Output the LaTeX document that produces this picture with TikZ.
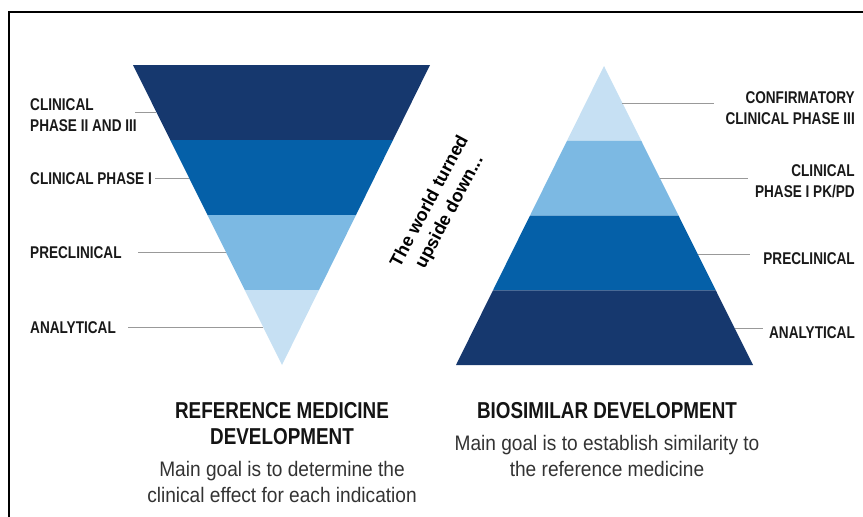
\documentclass[tikz,border=0pt]{standalone}
\usepackage{fontspec}
\setmainfont{Liberation Sans}
\newfontfamily\condfont{Liberation Sans}[FakeStretch=0.8]
\newfontfamily\headfont{Liberation Sans}[FakeStretch=0.82]
\newfontfamily\bodyfont{Liberation Sans}[FakeStretch=0.91]
\usetikzlibrary{positioning,calc}
\definecolor{navy}{HTML}{16386E}
\definecolor{midblue}{HTML}{0560A8}
\definecolor{lightblue}{HTML}{7CB9E3}
\definecolor{paleblue}{HTML}{C6E0F3}
\tikzset{
	phase/.style={font=\condfont\bfseries\fontsize{17}{20.5}\selectfont,inner sep=0pt,text=black!90},
	leader/.style={draw=black!40,line width=0.8pt},
	heading/.style={font=\headfont\bfseries\fontsize{23}{26}\selectfont,inner sep=0pt,align=center,text=black!92},
	goal/.style={font=\bodyfont\fontsize{21}{26}\selectfont,inner sep=0pt,align=center,text=black!80}
}

\begin{document}
\begin{tikzpicture}[x=1pt,y=-1pt]
	\useasboundingbox (0,0) rectangle (863,517);
	\draw[line width=1.6pt] (863,12) -| (9,517);
	% reference medicine: upside down
	\coordinate (A) at (133,65);
	\coordinate (B) at (430,65);
	\coordinate (C) at (282,365);
	\foreach \c [count=\i] in {navy,midblue,lightblue,paleblue} {
		\pgfmathsetmacro\ta{(\i-1)/4}
		\pgfmathsetmacro\tb{\i/4}
		\fill[\c] ($(A)!\ta!(C)$) -- ($(B)!\ta!(C)$) -- ($(B)!\tb!(C)$) -- ($(A)!\tb!(C)$) -- cycle;
	}
	% biosimilar
	\coordinate (P) at (604,66);
	\coordinate (Q) at (456,365);
	\coordinate (R) at (753,365);
	\foreach \c [count=\i] in {paleblue,lightblue,midblue,navy} {
		\pgfmathsetmacro\ta{(\i-1)/4}
		\pgfmathsetmacro\tb{\i/4}
		\fill[\c] ($(P)!\ta!(Q)$) -- ($(P)!\ta!(R)$) -- ($(P)!\tb!(R)$) -- ($(P)!\tb!(Q)$) -- cycle;
	}

	\node[phase,anchor=west,align=left] (ref3) at (30,115) {CLINICAL\\PHASE II AND III};
	\node[phase,anchor=west] (ref2) at (30,179) {CLINICAL PHASE I};
	\node[phase,anchor=west] (ref1) at (30,252.5) {PRECLINICAL};
	\node[phase,anchor=west] (ref0) at (30,327.5) {ANALYTICAL};
	\foreach \n/\x/\y/\t in {3/135/112/.157, 2/155/178/.377, 1/138/252/.623, 0/128/327/.873} {
		\coordinate (s\n) at (\x,\y);
		\coordinate (e\n) at ($(A)!\t!(C)$);
		\draw[leader] (s\n) -- (s\n -| e\n);
	}

	\node[phase,anchor=east,align=right] (bio3) at (855,108) {CONFIRMATORY\\CLINICAL PHASE III};
	\node[phase,anchor=east,align=right] (bio2) at (855,181) {CLINICAL\\PHASE I PK/PD};
	\node[phase,anchor=east] (bio1) at (855,258.5) {PRECLINICAL};
	\node[phase,anchor=east] (bio0) at (855,333) {ANALYTICAL};
	\foreach \n/\x/\y/\t in {3/714/103/.124, 2/748/178/.375, 1/750/254/.629, 0/763/328/.876} {
		\coordinate (f\n) at ($(P)!\t!(R)$);
		\coordinate (g\n) at (\x,\y);
		\draw[leader] (g\n -| f\n) -- (g\n);
	}

	\node[font=\bfseries\fontsize{18}{22.5}\selectfont,align=center,rotate=62,inner sep=0pt] (flip) at (440,207) {The world turned\\upside down...};

	\node[heading,anchor=north] (reftitle) at (282,402) {REFERENCE MEDICINE\\DEVELOPMENT};
	\node[goal,below=16.5pt of reftitle] (refgoal) {Main goal is to determine the\\clinical effect for each indication};
	\node[heading,anchor=north] (biotitle) at (607,402) {BIOSIMILAR DEVELOPMENT};
	\node[goal,below=16pt of biotitle] (biogoal) {Main goal is to establish similarity to\\the reference medicine};
\end{tikzpicture}
\end{document}
